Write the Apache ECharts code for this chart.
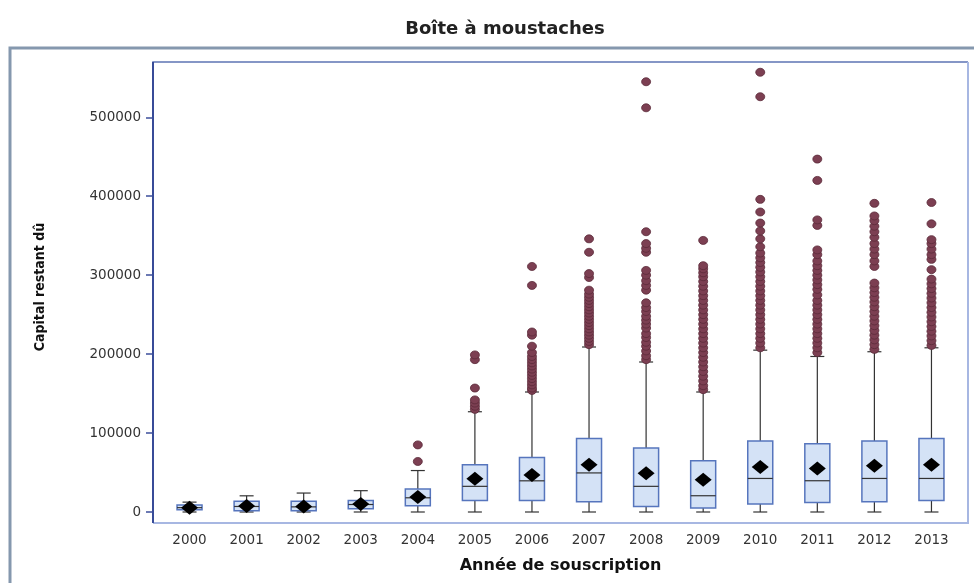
<!DOCTYPE html>
<html>
<head>
<meta charset="utf-8">
<script src="https://cdn.jsdelivr.net/npm/echarts@6/dist/echarts.min.js"></script>
<style>
  html, body { margin: 0; padding: 0; background: #fff; }
  #chart { width: 974px; height: 583px; }
</style>
</head>
<body>
<div id="chart"></div>
<script>
const years = ['2000', '2001', '2002', '2003', '2004', '2005', '2006', '2007', '2008', '2009', '2010', '2011', '2012', '2013']
const whiskerLow = [0, 0, 0, 0, 0, 0, 0, 0, 0, 0, 0, 0, 0, 0]
const q1 = [3000, 1500, 1500, 4000, 8000, 14500, 14500, 13000, 7000, 5000, 10000, 12000, 13000, 14700]
const medians = [5500, 7000, 6500, 9500, 18000, 32500, 39500, 49500, 32500, 20600, 42500, 39600, 42500, 42500]
const q3 = [9000, 13500, 13500, 14500, 29000, 60000, 69000, 93000, 81000, 65000, 90000, 86500, 90000, 93000]
const whiskerHigh = [12500, 20500, 24000, 27000, 52500, 127000, 152000, 209000, 190000, 152000, 205000, 197000, 203000, 208000]
const means = [5500, 7500, 7000, 10000, 19000, 42000, 47000, 60000, 49000, 41000, 57000, 55000, 58600, 60000]
const outliers = [
  [],
  [],
  [],
  [],
  [64000, 85000],
  [130000, 134000, 138000, 142000, 157000, 193000, 199000],
  [154000, 157000, 161000, 165000, 169000, 173000, 177000, 181000, 185000, 189000, 193000, 197000, 202000, 210000, 224000, 228000, 287000, 311000],
  [212000, 216000, 220000, 224000, 228000, 232000, 236000, 240000, 244000, 248000, 252000, 256000, 260000, 264000, 268000, 272000, 276000, 281000, 297000, 302000, 329000, 346000],
  [193000, 198000, 204000, 210000, 215000, 221000, 226000, 233000, 238000, 243000, 248000, 254000, 259000, 265000, 281000, 287000, 293000, 300000, 306000, 329000, 334000, 340000, 355000, 512000, 545000],
  [155000, 160000, 166000, 172000, 178000, 184000, 190000, 196000, 202000, 208000, 214000, 220000, 226000, 232000, 238000, 244000, 250000, 256000, 262000, 268000, 274000, 280000, 286000, 292000, 298000, 303000, 308000, 312000, 344000],
  [208000, 214000, 220000, 226000, 232000, 238000, 244000, 250000, 256000, 262000, 268000, 274000, 280000, 286000, 292000, 298000, 304000, 310000, 316000, 322000, 328000, 336000, 346000, 356000, 366000, 380000, 396000, 526000, 557000],
  [202000, 208000, 214000, 220000, 226000, 232000, 238000, 244000, 250000, 256000, 262000, 268000, 275000, 282000, 288000, 294000, 300000, 306000, 312000, 318000, 326000, 332000, 363000, 370000, 420000, 447000],
  [206000, 212000, 218000, 224000, 230000, 236000, 242000, 248000, 254000, 260000, 266000, 272000, 278000, 284000, 290000, 311000, 318000, 326000, 333000, 340000, 348000, 355000, 362000, 369000, 375000, 391000],
  [211000, 217000, 223000, 229000, 235000, 241000, 247000, 253000, 259000, 265000, 271000, 277000, 283000, 289000, 295000, 307000, 320000, 326000, 333000, 340000, 345000, 365000, 392000]
]
const yTicks = [0, 100000, 200000, 300000, 400000, 500000]

const boxData = years.map((y, i) => [i, whiskerLow[i], q1[i], medians[i], q3[i], whiskerHigh[i]])
const meanData = means.map((m, i) => [i, m])
const outlierData = []
outliers.forEach((list, i) => list.forEach((v) => outlierData.push([i, v])))

const chart = echarts.init(document.getElementById('chart'))

function renderBox(params, api) {
  const idx = api.value(0)
  const low = api.coord([idx, api.value(1)])
  const lo = api.coord([idx, api.value(2)])
  const med = api.coord([idx, api.value(3)])
  const hi = api.coord([idx, api.value(4)])
  const high = api.coord([idx, api.value(5)])
  const x = low[0]
  const half = 12.5
  const cap = 7
  const dark = { stroke: '#333', lineWidth: 1.2 }
  return {
    type: 'group',
    children: [
      { type: 'line', shape: { x1: x, y1: lo[1], x2: x, y2: low[1] }, style: dark },
      { type: 'line', shape: { x1: x, y1: hi[1], x2: x, y2: high[1] }, style: dark },
      { type: 'line', shape: { x1: x - cap, y1: low[1], x2: x + cap, y2: low[1] }, style: dark },
      { type: 'line', shape: { x1: x - cap, y1: high[1], x2: x + cap, y2: high[1] }, style: dark },
      {
        type: 'rect',
        shape: { x: x - half, y: hi[1], width: half * 2, height: lo[1] - hi[1] },
        style: { fill: '#d4e2f6', stroke: '#5675bd', lineWidth: 1.5 }
      },
      { type: 'line', shape: { x1: x - half, y1: med[1], x2: x + half, y2: med[1] }, style: dark }
    ]
  }
}

const option = {
  backgroundColor: '#fff',
  animation: false,
  title: {
    text: 'Boîte à moustaches',
    left: 500,
    textAlign: 'center',
    top: 15,
    textStyle: { fontFamily: 'DejaVu Sans', fontWeight: 'bold', fontSize: 18, color: '#222' }
  },
  grid: { left: 161, right: 14, top: 62, bottom: 71 },
  xAxis: {
    type: 'category',
    data: years,
    offset: 11,
    boundaryGap: true,
    name: 'Année de souscription',
    nameLocation: 'middle',
    nameGap: 35,
    nameTextStyle: { fontFamily: 'DejaVu Sans', fontWeight: 'bold', fontSize: 16, color: '#111' },
    axisLine: { show: false },
    axisTick: { alignWithLabel: true, length: 7, lineStyle: { color: '#3c4f9c', width: 1.5 } },
    axisLabel: { margin: 10, color: '#333', fontFamily: 'DejaVu Sans', fontSize: 13.5 },
    splitLine: { show: false }
  },
  yAxis: {
    type: 'value',
    min: 0,
    max: 570000,
    interval: 100000,
    offset: 8,
    name: 'Capital restant dû',
    nameLocation: 'middle',
    nameGap: 106,
    nameTextStyle: { fontFamily: "'Liberation Sans Narrow', 'DejaVu Sans Condensed', sans-serif", fontWeight: 'bold', fontSize: 14, color: '#111' },
    axisLine: { show: false },
    axisTick: { show: true, length: 7, customValues: yTicks, lineStyle: { color: '#3c4f9c', width: 1.5 } },
    axisLabel: {
      margin: 12,
      color: '#333',
      fontFamily: 'DejaVu Sans',
      fontSize: 13.5,
      customValues: yTicks,
      formatter: (v) => (yTicks.includes(v) ? String(v) : '')
    },
    splitLine: { show: false }
  },
  graphic: [
    {
      type: 'rect',
      silent: true,
      shape: { x: 10, y: 48, width: 1000, height: 600 },
      style: { fill: 'none', stroke: '#8598ae', lineWidth: 3 }
    },
    {
      type: 'polyline',
      silent: true,
      shape: { points: [[153, 523], [153, 62], [968, 62]] },
      style: { fill: 'none', stroke: '#5d74b4', lineWidth: 1.5 }
    },
    {
      type: 'polyline',
      silent: true,
      shape: { points: [[968, 62], [968, 523], [153, 523]] },
      style: { fill: 'none', stroke: '#a7b7e2', lineWidth: 2 }
    },
    {
      type: 'line',
      silent: true,
      shape: { x1: 153, y1: 62, x2: 153, y2: 523 },
      style: { stroke: '#2f4393', lineWidth: 1.8 }
    }
  ],
  series: [
    {
      type: 'custom',
      renderItem: renderBox,
      data: boxData,
      encode: { x: 0, y: [1, 2, 3, 4, 5] },
      z: 2
    },
    {
      type: 'scatter',
      data: outlierData,
      symbol: 'circle',
      symbolSize: [9, 8],
      itemStyle: { color: '#7c3f52', borderColor: '#5b2a3a', borderWidth: 0.8, opacity: 1 },
      z: 3
    },
    {
      type: 'scatter',
      data: meanData,
      symbol: 'diamond',
      symbolSize: [17, 14],
      itemStyle: { color: '#000', opacity: 1 },
      z: 4
    }
  ]
}

chart.setOption(option)
</script>
</body>
</html>
